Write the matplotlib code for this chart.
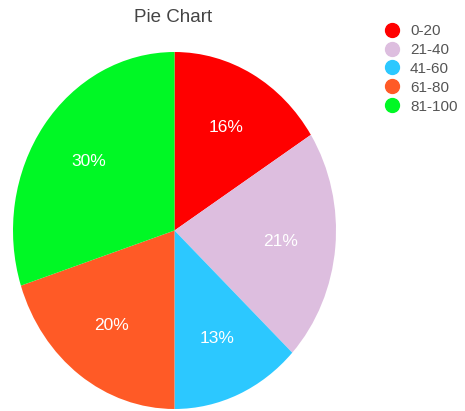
import matplotlib.pyplot as plt
from matplotlib.lines import Line2D

plt.rcParams['font.family'] = ['Liberation Sans', 'DejaVu Sans']

labels = ['0-20', '21-40', '41-60', '61-80', '81-100']
shares = [16, 21, 13, 20, 30]
colors = ['#FF0000', '#DDBEDF', '#2CC8FF', '#FF5A26', '#00F825']

fig = plt.figure(figsize=(4.65, 4.11), dpi=100)

# pie is drawn slightly stretched vertically, like the reference
ax = fig.add_axes([13 / 465, 2 / 411, 323 / 465, 357 / 411])
wedges, texts, autotexts = ax.pie(
    shares, colors=colors, startangle=90, counterclock=False,
    autopct='%1.0f%%', pctdistance=0.66,
    textprops={'color': 'white', 'fontsize': 12.5},
    wedgeprops={'linewidth': 0},
)
ax.set_aspect('auto')
ax.set_xlim(-1, 1)
ax.set_ylim(-1, 1)

fig.text(173 / 465, 1 - 18 / 411, 'Pie Chart', ha='center', va='center',
         fontsize=13.5, color='#444444')

handles = [Line2D([0], [0], marker='o', linestyle='', markersize=10,
                  markerfacecolor=c, markeredgecolor=c) for c in colors]
fig.legend(handles, labels, loc='upper left', bbox_to_anchor=(384 / 465, 1 - 24 / 411),
           frameon=False, fontsize=11, labelcolor='#555555', handlelength=1.0,
           handletextpad=0.7, labelspacing=0.32, borderaxespad=0, borderpad=0)

fig.savefig('out.png', dpi=100)
